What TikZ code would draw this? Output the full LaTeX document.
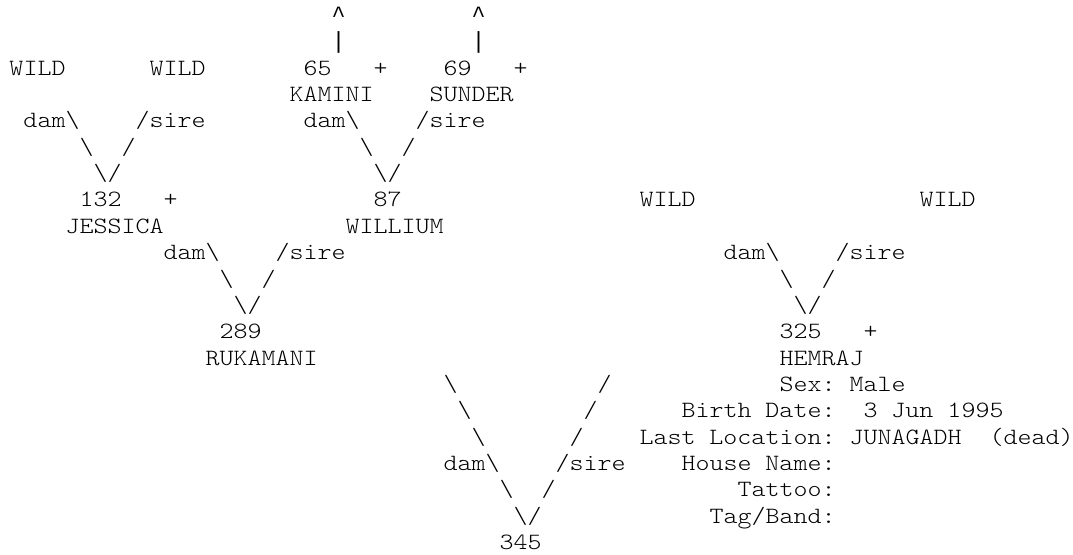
\documentclass[tikz,border=0pt]{standalone}
\usepackage{fontspec}
\newfontfamily\pedfont[FakeStretch=1.143]{Latin Modern Mono Light}
\newfontfamily\markfont{Liberation Mono}
\tikzset{ped/.style={anchor=base west, inner sep=0pt, outer sep=0pt,
  font=\pedfont\fontsize{17.5}{21}\selectfont, text=black},
  pedmark/.style={ped, font=\markfont\fontsize{17.5}{21}\selectfont}}
\newcommand\ped[5][ped]{\node[#1] (#2) at ({9.5+14*#3},{22.45+26.36*#4}) {#5};}
\newcommand\bs{\textbackslash}
\begin{document}
\begin{tikzpicture}[x=0.75pt,y=-0.75pt]
\path[use as bounding box, fill=white] (0,0) rectangle (1073,554);
% row 0-1
\ped[pedmark]{up1}{23}{0}{\char"5E}
\ped[pedmark]{up2}{33}{0}{\char"5E}
\ped[pedmark]{bar1}{23}{1}{\char"7C}
\ped[pedmark]{bar2}{33}{1}{\char"7C}
% row 2
\ped{wildA}{0}{2}{WILD}
\ped{wildB}{10}{2}{WILD}
\ped{id65}{21}{2}{65}
\ped{plA}{26}{2}{+}
\ped{id69}{31}{2}{69}
\ped{plB}{36}{2}{+}
% row 3
\ped{kamini}{20}{3}{KAMINI}
\ped{sunder}{30}{3}{SUNDER}
% row 4
\ped{damA}{1}{4}{dam\bs}
\ped{sireA}{9}{4}{/sire}
\ped{damB}{21}{4}{dam\bs}
\ped{sireB}{29}{4}{/sire}
% row 5
\ped{a5l}{5}{5}{\bs}
\ped{a5r}{8}{5}{/}
\ped{b5l}{25}{5}{\bs}
\ped{b5r}{28}{5}{/}
% row 6
\ped{a6}{6}{6}{\bs/}
\ped{b6}{26}{6}{\bs/}
% row 7
\ped{id132}{5}{7}{132}
\ped{plC}{11}{7}{+}
\ped{id87}{26}{7}{87}
\ped{wildC}{45}{7}{WILD}
\ped{wildD}{65}{7}{WILD}
% row 8
\ped{jessica}{4}{8}{JESSICA}
\ped{willium}{24}{8}{WILLIUM}
% row 9
\ped{damC}{11}{9}{dam\bs}
\ped{sireC}{19}{9}{/sire}
\ped{damD}{51}{9}{dam\bs}
\ped{sireD}{59}{9}{/sire}
% row 10
\ped{c10l}{15}{10}{\bs}
\ped{c10r}{18}{10}{/}
\ped{d10l}{55}{10}{\bs}
\ped{d10r}{58}{10}{/}
% row 11
\ped{c11}{16}{11}{\bs/}
\ped{d11}{56}{11}{\bs/}
% row 12
\ped{id289}{15}{12}{289}
\ped{id325}{55}{12}{325}
\ped{plD}{61}{12}{+}
% row 13
\ped{rukamani}{14}{13}{RUKAMANI}
\ped{hemraj}{55}{13}{HEMRAJ}
% rows 14-20
\ped{e14l}{31}{14}{\bs}
\ped{e14r}{42}{14}{/}
\ped{sexL}{55}{14}{Sex:}
\ped{sexV}{60}{14}{Male}
\ped{e15l}{32}{15}{\bs}
\ped{e15r}{41}{15}{/}
\ped{birthL}{48}{15}{Birth Date:}
\ped{birthV}{61}{15}{3 Jun 1995}
\ped{e16l}{33}{16}{\bs}
\ped{e16r}{40}{16}{/}
\ped{locL}{45}{16}{Last Location:}
\ped{locV}{60}{16}{JUNAGADH}
\ped{locD}{70}{16}{(dead)}
\ped{damE}{31}{17}{dam\bs}
\ped{sireE}{39}{17}{/sire}
\ped{houseL}{48}{17}{House Name:}
\ped{e18l}{35}{18}{\bs}
\ped{e18r}{38}{18}{/}
\ped{tatL}{52}{18}{Tattoo:}
\ped{e19}{36}{19}{\bs/}
\ped{tagL}{50}{19}{Tag/Band:}
\ped{id345}{35}{20}{345}
\end{tikzpicture}
\end{document}
